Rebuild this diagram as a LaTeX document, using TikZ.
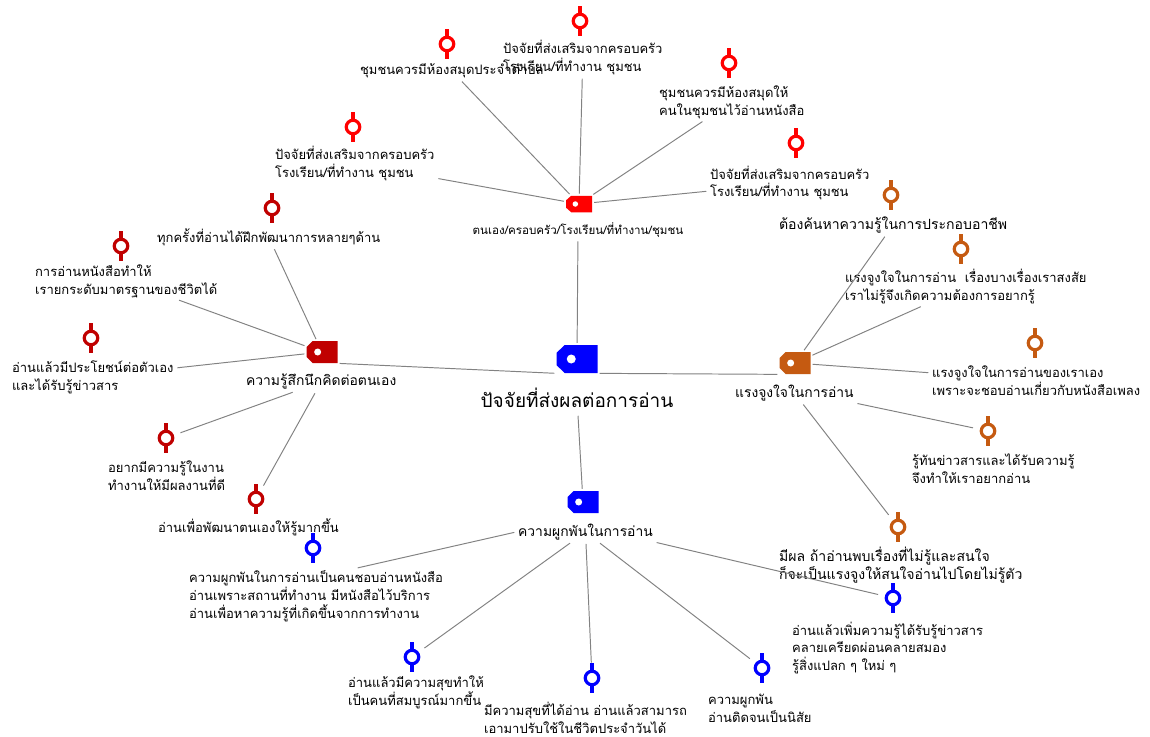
\documentclass[tikz,border=0pt]{standalone}
\usepackage{fontspec}
\newfontfamily\thai[Script=Thai]{Loma}
\usetikzlibrary{calc}
\definecolor{tagred}{RGB}{255,0,0}
\definecolor{tagdark}{RGB}{192,0,0}
\definecolor{tagorange}{RGB}{197,90,17}
\definecolor{tagblue}{RGB}{0,0,255}
\definecolor{linkgray}{RGB}{130,130,130}
\begin{document}
\begin{tikzpicture}[x=0.02cm,y=-0.02cm,
    hole/.store in=\holesize,hole=0.07cm,
    tagbox/.style={rectangle,inner sep=0,minimum width=0.62cm,minimum height=0.44cm,
      path picture={
        \fill[#1] ($(path picture bounding box.north west)!0.2!(path picture bounding box.north east)$)
          -- (path picture bounding box.north east) -- (path picture bounding box.south east)
          -- ($(path picture bounding box.south west)!0.2!(path picture bounding box.south east)$)
          -- ($(path picture bounding box.south west)!0.28!(path picture bounding box.north west)$)
          -- ($(path picture bounding box.north west)!0.28!(path picture bounding box.south west)$) -- cycle;
        \fill[white] ($(path picture bounding box.west)!0.36!(path picture bounding box.east)$) circle (\holesize);
      }},
    bead/.style={circle,draw=#1,fill=white,line width=1.8pt,minimum size=0.27cm,inner sep=0,
      append after command={(\tikzlastnode.north) edge[draw=#1,line width=1.8pt] ++(0,-7)
        (\tikzlastnode.south) edge[draw=#1,line width=1.8pt] ++(0,7)}},
    leaf/.style={font=\thai\fontsize{7.4}{10.2}\selectfont,align=left,inner sep=1pt,anchor=west},
    bigleaf/.style={leaf,font=\thai\fontsize{8}{10.4}\selectfont},
    branch/.style={font=\thai\fontsize{7.9}{10}\selectfont,inner sep=1pt},
    link/.style={draw=linkgray,line width=0.55pt,shorten <=1pt,shorten >=1pt},
    stem/.style={link,shorten <=0.14cm}]
  \fill[white] (0,0) rectangle (1150,737);
  \useasboundingbox (0,0) rectangle (1150,737);

  % centre
  \node[tagbox=tagblue,hole=0.09cm,minimum width=0.82cm,minimum height=0.56cm] (ctag) at (577,359) {};
  \node[font=\thai\fontsize{10.8}{13}\selectfont] (clabel) at (577,398) {ปัจจัยที่ส่งผลต่อการอ่าน};

  % ตนเอง/ครอบครัว
  \node[tagbox=tagred,hole=0.055cm,minimum width=0.52cm,minimum height=0.33cm] (rtag) at (579,204) {};
  \node[font=\thai\fontsize{6.6}{8}\selectfont,inner sep=1pt] (rlabel) at (578,230) {ตนเอง/ครอบครัว/โรงเรียน/ที่ทำงาน/ชุมชน};
  \node[bead=tagred] (rp1) at (447,44) {};
  \node[leaf] (r1) at (358,71) {ชุมชนควรมีห้องสมุดประจำตำบล};
  \node[bead=tagred] (rp2) at (580,21) {};
  \node[leaf] (r2) at (501,57.5) {ปัจจัยที่ส่งเสริมจากครอบครัว\\โรงเรียน/ที่ทำงาน ชุมชน};
  \node[bead=tagred] (rp3) at (729,63) {};
  \node[leaf] (r3) at (657,102) {ชุมชนควรมีห้องสมุดให้\\คนในชุมชนไว้อ่านหนังสือ};
  \node[bead=tagred] (rp4) at (796,143) {};
  \node[leaf] (r4) at (708,183) {ปัจจัยที่ส่งเสริมจากครอบครัว\\โรงเรียน/ที่ทำงาน ชุมชน};
  \node[bead=tagred] (rp5) at (353,127) {};
  \node[leaf] (r5) at (273,163.5) {ปัจจัยที่ส่งเสริมจากครอบครัว\\โรงเรียน/ที่ทำงาน ชุมชน};

  % ความรู้สึกนึกคิด
  \node[tagbox=tagdark] (dtag) at (322,352) {};
  \node[branch,anchor=west] (dlabel) at (244,382) {ความรู้สึกนึกคิดต่อตนเอง};
  \node[bead=tagdark] (dp1) at (272,208) {};
  \node[leaf] (d1) at (155,237) {ทุกครั้งที่อ่านได้ฝึกพัฒนาการหลายๆด้าน};
  \node[bead=tagdark] (dp2) at (121,246) {};
  \node[leaf] (d2) at (33,281) {การอ่านหนังสือทำให้\\เรายกระดับมาตรฐานของชีวิตได้};
  \node[bead=tagdark] (dp3) at (91,338) {};
  \node[leaf] (d3) at (10,377) {อ่านแล้วมีประโยชน์ต่อตัวเอง\\และได้รับรู้ข่าวสาร};
  \node[bead=tagdark] (dp4) at (166,438) {};
  \node[leaf] (d4) at (106,475.5) {อยากมีความรู้ในงาน\\ทำงานให้มีผลงานที่ดี};
  \node[bead=tagdark] (dp5) at (256,499) {};
  \node[leaf] (d5) at (156,527) {อ่านเพื่อพัฒนาตนเองให้รู้มากขึ้น};

  % แรงจูงใจ
  \node[tagbox=tagorange] (otag) at (795,363) {};
  \node[branch,anchor=west] (olabel) at (733,393) {แรงจูงใจในการอ่าน};
  \node[bead=tagorange] (op1) at (891,195) {};
  \node[bigleaf] (o1) at (777,225) {ต้องค้นหาความรู้ในการประกอบอาชีพ};
  \node[bead=tagorange] (op2) at (961,249) {};
  \node[leaf] (o2) at (843,286.5) {แรงจูงใจในการอ่าน~ เรื่องบางเรื่องเราสงสัย\\เราไม่รู้จึงเกิดความต้องการอยากรู้};
  \node[bead=tagorange] (op3) at (1035,343) {};
  \node[leaf] (o3) at (930,380.5) {แรงจูงใจในการอ่านของเราเอง\\เพราะจะชอบอ่านเกี่ยวกับหนังสือเพลง};
  \node[bead=tagorange] (op4) at (988,431) {};
  \node[leaf] (o4) at (910,468.5) {รู้ทันข่าวสารและได้รับความรู้\\จึงทำให้เราอยากอ่าน};
  \node[bead=tagorange] (op5) at (898,527) {};
  \node[bigleaf] (o5) at (777,565) {มีผล ถ้าอ่านพบเรื่องที่ไม่รู้และสนใจ\\ก็จะเป็นแรงจูงให้สนใจอ่านไปโดยไม่รู้ตัว};

  % ความผูกพัน
  \node[tagbox=tagblue] (btag) at (583,502) {};
  \node[branch,anchor=west] (blabel) at (516,532) {ความผูกพันในการอ่าน};
  \node[bead=tagblue] (bp1) at (313,548) {};
  \node[leaf] (b1) at (187,596) {ความผูกพันในการอ่านเป็นคนชอบอ่านหนังสือ\\อ่านเพราะสถานที่ทำงาน มีหนังสือไว้บริการ\\อ่านเพื่อหาความรู้ที่เกิดขึ้นจากการทำงาน};
  \node[bead=tagblue] (bp2) at (412,657) {};
  \node[leaf] (b2) at (346,692.5) {อ่านแล้วมีความสุขทำให้\\เป็นคนที่สมบูรณ์มากขึ้น};
  \node[bead=tagblue] (bp3) at (592,678) {};
  \node[leaf] (b3) at (482,718) {มีความสุขที่ได้อ่าน อ่านแล้วสามารถ\\เอามาปรับใช้ในชีวิตประจำวันได้};
  \node[bead=tagblue] (bp4) at (762,668) {};
  \node[leaf] (b4) at (706,708) {ความผูกพัน\\อ่านติดจนเป็นนิสัย};
  \node[bead=tagblue] (bp5) at (893,598) {};
  \node[leaf] (b5) at (790,648) {อ่านแล้วเพิ่มความรู้ได้รับรู้ข่าวสาร\\คลายเครียดผ่อนคลายสมอง\\รู้สิ่งแปลก ๆ ใหม่ ๆ};

  % links
  \draw[link] (ctag) -- (rlabel);
  \draw[link] (dtag.south east) -- (ctag.south west);
  \draw[link] (ctag.south east) -- (otag.south west);
  \draw[link] (clabel) -- (btag);
  \draw[link] (r1) -- (rtag);
  \draw[link] (r2) -- (rtag);
  \draw[link] (r3) -- (rtag);
  \draw[link] (r4) -- (rtag);
  \draw[link] (r5) -- (rtag);
  \draw[link] (d1) -- (dtag);
  \draw[link] (d2) -- (dtag);
  \draw[link] (d3) -- (dtag);
  \draw[stem] (dp4) -- (dlabel);
  \draw[stem] (dp5) -- (dlabel);
  \draw[link] (o1) -- (otag);
  \draw[link] (o2) -- (otag);
  \draw[link] (o3) -- (otag);
  \draw[stem] (op4) -- (olabel.south east);
  \draw[stem] (op5) -- (olabel);
  \draw[link] ([xshift=0.8cm]b1.north) -- (blabel.west);
  \draw[stem] (bp2) -- (blabel);
  \draw[stem] (bp3) -- (blabel);
  \draw[stem] (bp4) -- (blabel);
  \draw[stem] (bp5) -- (blabel.south east);
\end{tikzpicture}
\end{document}
